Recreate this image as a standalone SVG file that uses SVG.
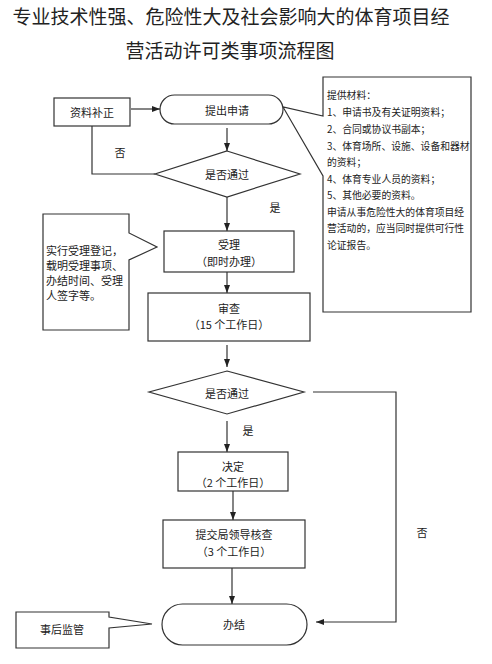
<svg xmlns="http://www.w3.org/2000/svg" width="492" height="664" viewBox="0 0 492 664">
<defs>
<style>
text{font-family:"Noto Sans CJK SC","Liberation Serif",serif;fill:#222;text-anchor:middle;dominant-baseline:central}
.t{font-size:19px}
.n{font-size:11px}
.s{font-size:9.8px;text-anchor:start}
.c{font-size:11px;text-anchor:start}
.shape{fill:#fff;stroke:#333;stroke-width:1.2}
.conn{fill:none;stroke:#333;stroke-width:1.2}
</style>
<marker id="arr" markerUnits="userSpaceOnUse" markerWidth="8" markerHeight="8" viewBox="0 0 8 8" refX="8" refY="4" orient="auto">
<path d="M0,1 L8,4 L0,7 Z" fill="#222"/>
</marker>
</defs>
<rect width="492" height="664" fill="#fff"/>
<g id="title">
<text class="t" x="231" y="15">专业技术性强、危险性大及社会影响大的体育项目经</text>
<text class="t" x="230" y="49">营活动许可类事项流程图</text>
</g>
<g id="connectors">
<line class="conn" x1="131" y1="109" x2="160" y2="109" marker-end="url(#arr)"/>
<line class="conn" x1="227" y1="128" x2="227" y2="151" marker-end="url(#arr)"/>
<polyline class="conn" points="155,174 92,174 92,126"/>
<line class="conn" x1="227" y1="197" x2="227" y2="231" marker-end="url(#arr)"/>
<line class="conn" x1="227" y1="272" x2="227" y2="293" marker-end="url(#arr)"/>
<line class="conn" x1="227" y1="345" x2="227" y2="367" marker-end="url(#arr)"/>
<line class="conn" x1="227" y1="421" x2="227" y2="452" marker-end="url(#arr)"/>
<line class="conn" x1="233" y1="491" x2="233" y2="520" marker-end="url(#arr)"/>
<line class="conn" x1="232" y1="568" x2="232" y2="604" marker-end="url(#arr)"/>
<polyline class="conn" points="313,392 396,392 396,622 316,622" marker-end="url(#arr)"/>
<text class="n" x="120" y="152">否</text>
<text class="n" x="275" y="207">是</text>
<text class="n" x="248" y="430">是</text>
<text class="n" x="422" y="532">否</text>
</g>
<g id="node-buzheng">
<rect class="shape" x="54" y="98" width="76" height="28"/>
<text class="n" x="92" y="112">资料补正</text>
</g>
<g id="node-shenqing">
<rect class="shape" x="160" y="95" width="123" height="29" rx="14.5"/>
<text class="n" x="227" y="110">提出申请</text>
</g>
<g id="node-materials">
<path class="shape" d="M323,77 H471 V312 H323 V176 L283,107 L323,116 Z"/>
<text class="s" x="327" y="95">提供材料：</text>
<text class="s" x="327" y="112">1、申请书及有关证明资料；</text>
<text class="s" x="327" y="129">2、合同或协议书副本；</text>
<text class="s" x="327" y="146">3、体育场所、设施、设备和器材</text>
<text class="s" x="327" y="162">的资料；</text>
<text class="s" x="327" y="179">4、体育专业人员的资料；</text>
<text class="s" x="327" y="195">5、其他必要的资料。</text>
<text class="s" x="327" y="212">申请从事危险性大的体育项目经</text>
<text class="s" x="327" y="228">营活动的，应当同时提供可行性</text>
<text class="s" x="327" y="245">论证报告。</text>
</g>
<g id="node-check1">
<polygon class="shape" points="227,151 300,174 227,197 155,174"/>
<text class="n" x="227" y="174">是否通过</text>
</g>
<g id="node-register">
<path class="shape" d="M43,214 H129 V233 L157,247 L129,260 V330 H43 Z"/>
<text class="c" x="46" y="250">实行受理登记，</text>
<text class="c" x="46" y="265">载明受理事项、</text>
<text class="c" x="46" y="280">办结时间、受理</text>
<text class="c" x="46" y="295">人签字等。</text>
</g>
<g id="node-shouli">
<rect class="shape" x="164" y="231" width="130" height="41"/>
<text class="n" x="229" y="244">受理</text>
<text class="n" x="229" y="261">（即时办理）</text>
</g>
<g id="node-shencha">
<rect class="shape" x="148" y="293" width="162" height="48"/>
<text class="n" x="229" y="308">审查</text>
<text class="n" x="229" y="324">（15 个工作日）</text>
</g>
<g id="node-check2">
<polygon class="shape" points="227,371 304,392 227,414 149,392"/>
<text class="n" x="227" y="393">是否通过</text>
</g>
<g id="node-jueding">
<rect class="shape" x="178" y="452" width="110" height="39"/>
<text class="n" x="233" y="466">决定</text>
<text class="n" x="233" y="482">（2 个工作日）</text>
</g>
<g id="node-tijiao">
<rect class="shape" x="163" y="520" width="142" height="48"/>
<text class="n" x="234" y="534">提交局领导核查</text>
<text class="n" x="234" y="551">（3 个工作日）</text>
</g>
<g id="node-banjie">
<rect class="shape" x="162" y="604" width="145" height="41" rx="20.5"/>
<text class="n" x="234" y="624">办结</text>
</g>
<g id="node-jianguan">
<path class="shape" d="M16,612 H109 V617 L152,624 L109,628 V648 H16 Z"/>
<text class="n" x="62" y="629">事后监管</text>
</g>
</svg>
